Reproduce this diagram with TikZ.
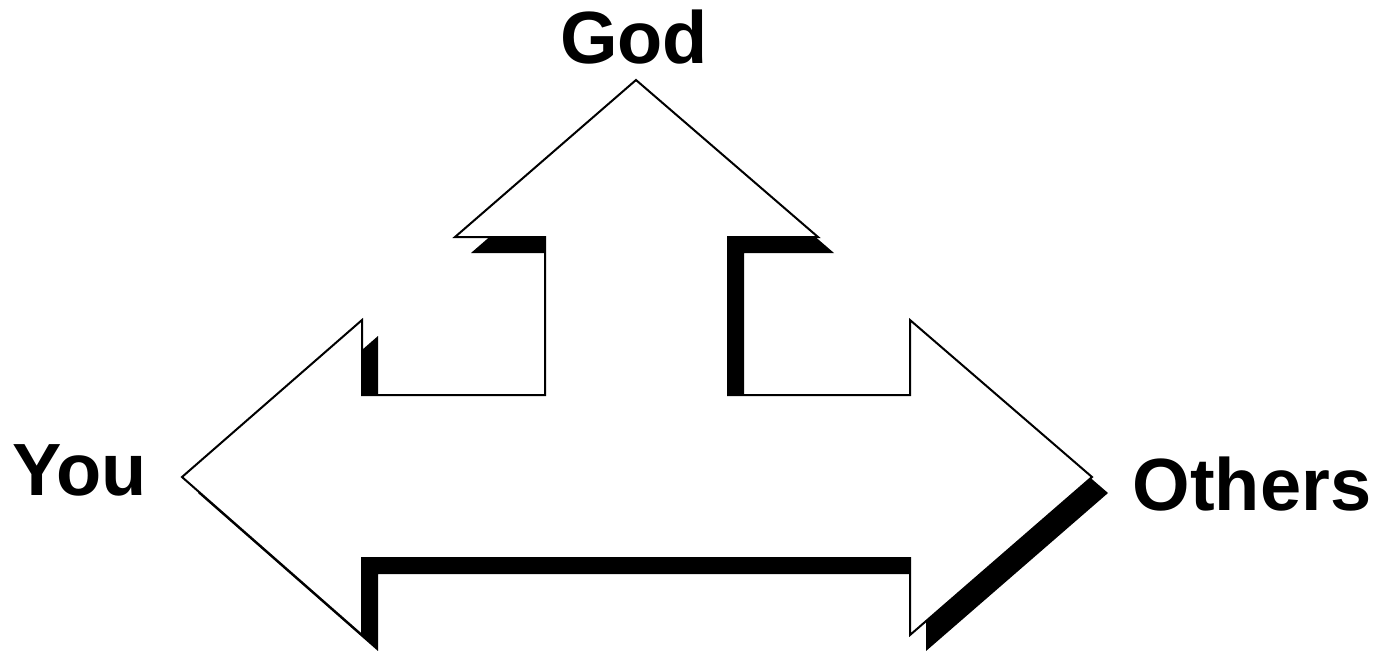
\documentclass[tikz,border=0pt]{standalone}
\usepackage{fontspec}
\setmainfont{Liberation Sans}
\usepackage{tikz}
\usetikzlibrary{positioning}
\usepackage{xcolor}
\definecolor{shadowcol}{RGB}{0,0,0}
\tikzset{
  every node/.append style={align=center},
  arrowbody/.style={fill=white, draw=black, line width=1pt, line join=miter},
  arrowshadow/.style={fill=shadowcol, draw=none},
  label/.style={font=\fontsize{37}{40}\selectfont\bfseries, anchor=base, inner sep=0pt}
}
% outline of the three-way arrow (pixel units, y down)
\def\threeway{(636,80) -- (818,237) -- (728,237) -- (728,395) -- (910,395)
  -- (910,320) -- (1092,477) -- (910,635) -- (910,558) -- (362,558)
  -- (362,635) -- (182,477) -- (362,320) -- (362,395) -- (545,395)
  -- (545,237) -- (455,237) -- cycle}

\begin{document}
\begin{tikzpicture}[x=0.5pt, y=-0.5pt]

\useasboundingbox (0,0) rectangle (1382,650);

% ── Shadow (offset copy) ─────────────────────────────────────────────────────
\begin{scope}[shift={(16,16)}]
  \path[arrowshadow] \threeway;
\end{scope}

% ── Arrow body ───────────────────────────────────────────────────────────────
\path[arrowbody] \threeway;

% ── Labels ───────────────────────────────────────────────────────────────────
\node[label] (god) at (634,63) {God};
\node[label] (you) at (80,495) {You};
\node[label] (others) at (1252,510) {Others};

\end{tikzpicture}
\end{document}
